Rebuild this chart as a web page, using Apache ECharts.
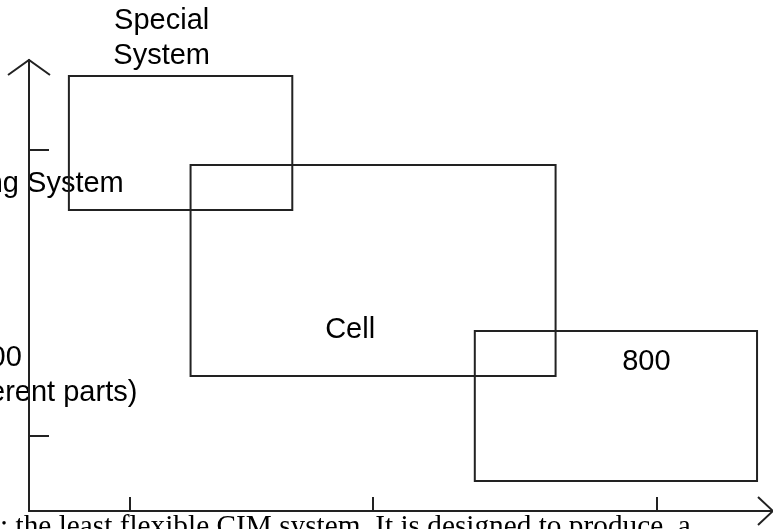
<!DOCTYPE html>
<html>
<head>
<meta charset="utf-8">
<script src="https://cdn.jsdelivr.net/npm/echarts@6/dist/echarts.min.js"></script>
<style>
html,body{margin:0;padding:0;background:#fff;}
#chart{width:773px;height:529px;}
</style>
</head>
<body>
<div id="chart"></div>
<script>
// ---- data (arbitrary diagram units: x = production volume, y = part variety) ----
const systems = ['Special System', 'Cell', '800'];
const xStart = [40, 162, 447];
const xEnd   = [264, 528, 730];
const yStart = [301, 135, 30];
const yEnd   = [435, 346, 180];
const xTicks = [101, 345, 629];
const yTicks = [75, 361];
const xMax = 746;
const yMax = 451;

// annotation texts and their anchor points (diagram units)
const noteTexts = ['Special\nSystem', 'Flexible Manufacturing System', 'Cell', '800', '1–100\n(different parts)'];
const noteX = [133, 95, 322, 619, -88];
const noteY = [473, 327, 181, 149, 136];
const noteAlign = ['center', 'right', 'center', 'center', 'left'];
const captionText = ': the least flexible CIM system. It is designed to produce, a';
const captionX = -29;
const captionY = -16;

const ink = '#222';
const chart = echarts.init(document.getElementById('chart'));

const option = {
  animation: false,
  grid: { left: 29, right: -2, top: 60, bottom: 18, containLabel: false },
  xAxis: {
    type: 'value', min: 0, max: xMax,
    splitLine: { show: false },
    axisLine: { show: true, onZero: false, lineStyle: { color: ink, width: 2 } },
    axisTick: { show: true, inside: true, length: 14, customValues: xTicks, lineStyle: { color: ink, width: 2 } },
    axisLabel: { show: false }
  },
  yAxis: {
    type: 'value', min: 0, max: yMax,
    splitLine: { show: false },
    axisLine: { show: true, onZero: false, lineStyle: { color: ink, width: 2 } },
    axisTick: { show: true, inside: true, length: 20, customValues: yTicks, lineStyle: { color: ink, width: 2 } },
    axisLabel: { show: false }
  },
  series: [{
    type: 'custom',
    clip: false,
    data: systems.map((s, i) => [xStart[i], xEnd[i], yStart[i], yEnd[i]]),
    renderItem: function (params, api) {
      const p0 = api.coord([api.value(0), api.value(3)]);
      const p1 = api.coord([api.value(1), api.value(2)]);
      return {
        type: 'rect',
        shape: { x: p0[0], y: p0[1], width: p1[0] - p0[0], height: p1[1] - p0[1] },
        style: { fill: 'none', stroke: ink, lineWidth: 2 }
      };
    }
  }]
};
chart.setOption(option);

// decorations: arrowheads, annotation texts, caption
const yTop = chart.convertToPixel({ gridIndex: 0 }, [0, yMax]);
const xRight = chart.convertToPixel({ gridIndex: 0 }, [xMax, 0]);
const graphics = [];
graphics.push({
  type: 'polyline', silent: true,
  shape: { points: [[yTop[0] - 21, yTop[1] + 15], [yTop[0], yTop[1]], [yTop[0] + 21, yTop[1] + 15]] },
  style: { fill: 'none', stroke: ink, lineWidth: 2 }
});
graphics.push({
  type: 'polyline', silent: true,
  shape: { points: [[xRight[0] - 15, xRight[1] - 14], [xRight[0], xRight[1]], [xRight[0] - 15, xRight[1] + 14]] },
  style: { fill: 'none', stroke: ink, lineWidth: 2 }
});
noteTexts.forEach((t, i) => {
  const p = chart.convertToPixel({ gridIndex: 0 }, [noteX[i], noteY[i]]);
  graphics.push({
    type: 'text', silent: true, x: p[0], y: p[1],
    style: {
      text: t, fill: '#000', font: '29px "Liberation Sans", Arial, sans-serif',
      align: noteAlign[i], verticalAlign: 'middle', lineHeight: 35
    }
  });
});
const cp = chart.convertToPixel({ gridIndex: 0 }, [captionX, captionY]);
graphics.push({
  type: 'text', silent: true, x: cp[0], y: cp[1],
  style: { text: captionText, fill: '#000', font: '29.3px "Liberation Serif", "Times New Roman", serif', align: 'left', verticalAlign: 'middle' }
});
chart.setOption({ graphic: graphics });
</script>
</body>
</html>
